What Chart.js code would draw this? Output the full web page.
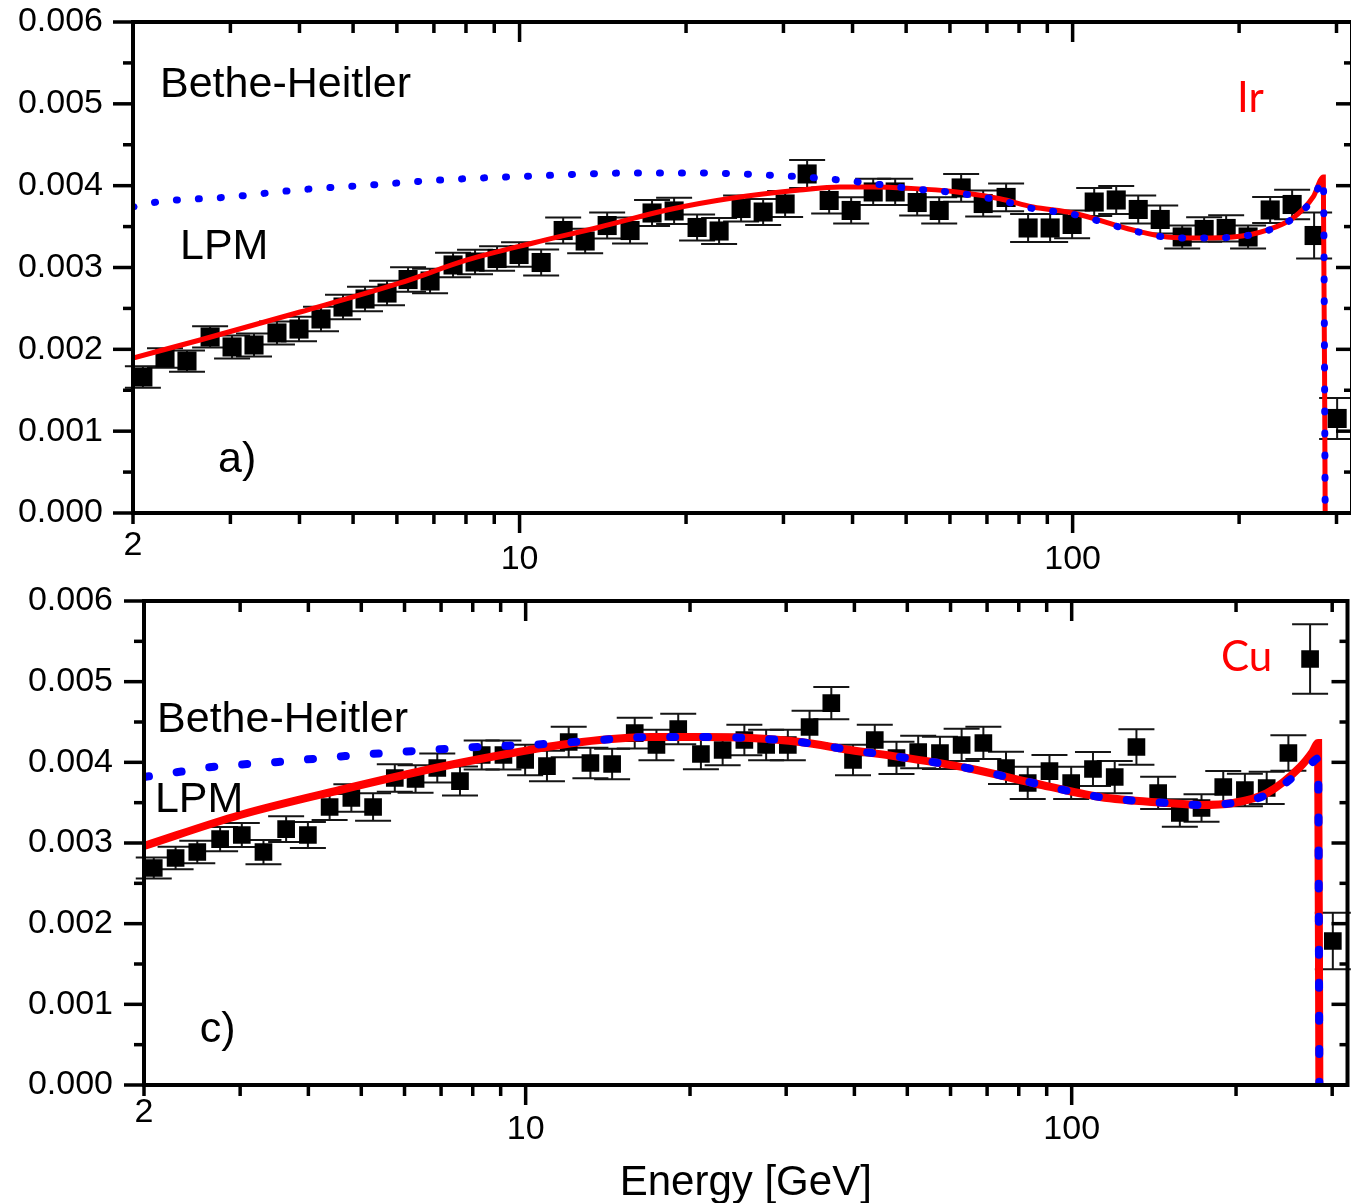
<!DOCTYPE html>
<html>
<head>
<meta charset="utf-8">
<title>Ir / Cu energy spectra</title>
<script src="https://cdn.jsdelivr.net/npm/chart.js@4.4.0/dist/chart.umd.min.js"></script>
<style>
  html, body { margin: 0; padding: 0; background: #fff; overflow: hidden; }
  #wrap { position: relative; width: 1351px; height: 1203px; overflow: hidden; background: #fff; }
  canvas { position: absolute; left: 0; }
  #grapIr { top: 0; }
  #grapCu { top: 570px; }
</style>
</head>
<body>
<div id="wrap">
  <canvas id="grapIr" width="1360" height="580"></canvas>
  <canvas id="grapCu" width="1360" height="633"></canvas>
</div>
<script>
// photon energy bins [GeV], same for both targets
var energy = [2.084, 2.285, 2.504, 2.757, 3.021, 3.310, 3.642, 3.992, 4.375, 4.795,
  5.255, 5.759, 6.286, 6.889, 7.581, 8.308, 9.106, 9.979, 10.94, 11.99,
  13.14, 14.40, 15.84, 17.36, 19.03, 20.94, 22.95, 25.15, 27.57, 30.21,
  33.11, 36.29, 39.77, 43.59, 47.77, 52.35, 57.38, 62.87, 68.91, 75.81,
  83.08, 91.06, 99.79, 109.4, 119.9, 131.4, 144.0, 157.8, 172.9, 189.5,
  207.6, 227.6, 249.4, 273.3, 300.8];

// measured values, in units of 1e-3
var irValues = [1.662, 1.894, 1.857, 2.151, 2.029, 2.053, 2.200, 2.248, 2.371, 2.517,
  2.615, 2.688, 2.853, 2.835, 3.031, 3.067, 3.110, 3.159, 3.061, 3.452,
  3.324, 3.513, 3.452, 3.666, 3.691, 3.489, 3.446, 3.721, 3.678, 3.776,
  4.143, 3.819, 3.697, 3.923, 3.923, 3.794, 3.697, 3.972, 3.782, 3.856,
  3.483, 3.483, 3.526, 3.800, 3.825, 3.709, 3.587, 3.373, 3.465, 3.477,
  3.373, 3.703, 3.770, 3.391, 1.155];
var irErrors = [0.13, 0.12, 0.13, 0.13, 0.14, 0.14, 0.14, 0.15, 0.15, 0.15,
  0.15, 0.15, 0.15, 0.15, 0.15, 0.15, 0.15, 0.15, 0.16, 0.16,
  0.15, 0.16, 0.16, 0.16, 0.16, 0.16, 0.16, 0.16, 0.16, 0.16,
  0.17, 0.16, 0.16, 0.16, 0.16, 0.16, 0.16, 0.17, 0.16, 0.17,
  0.17, 0.17, 0.17, 0.17, 0.17, 0.17, 0.17, 0.14, 0.15, 0.16,
  0.14, 0.16, 0.18, 0.28, 0.25];

var cuValues = [2.690, 2.814, 2.888, 3.049, 3.099, 2.888, 3.173, 3.099, 3.446, 3.558,
  3.446, 3.806, 3.793, 3.930, 3.768, 4.091, 4.091, 4.029, 3.954, 4.252,
  3.992, 3.979, 4.363, 4.215, 4.413, 4.103, 4.153, 4.277, 4.215, 4.215,
  4.438, 4.735, 4.029, 4.277, 4.054, 4.128, 4.116, 4.215, 4.240, 3.930,
  3.744, 3.892, 3.744, 3.917, 3.818, 4.190, 3.620, 3.372, 3.434, 3.694,
  3.657, 3.682, 4.116, 5.281, 1.785];
var cuErrors = [0.13, 0.14, 0.14, 0.15, 0.15, 0.15, 0.16, 0.16, 0.16, 0.17,
  0.17, 0.17, 0.17, 0.18, 0.18, 0.18, 0.18, 0.19, 0.19, 0.19,
  0.19, 0.19, 0.19, 0.19, 0.19, 0.19, 0.19, 0.19, 0.19, 0.19,
  0.20, 0.20, 0.19, 0.19, 0.20, 0.20, 0.20, 0.20, 0.20, 0.20,
  0.20, 0.20, 0.20, 0.21, 0.20, 0.22, 0.20, 0.17, 0.17, 0.20,
  0.20, 0.20, 0.22, 0.43, 0.35];

// theory curves (1e-3 units)
var irLpmE = [2.0, 2.644, 4.01, 6.08, 8.04, 10.58, 13.98, 18.48, 24.3, 32.1,
  38.0, 43.6, 50.2, 61.8, 73.9, 84.8, 100.2, 128.6, 148.2, 170,
  195, 224.7, 250.4, 272.2, 284.0, 286.2];
var irLpmV = [1.894, 2.114, 2.456, 2.811, 3.092, 3.30, 3.495, 3.703, 3.849, 3.946,
  3.984, 3.984, 3.97, 3.923, 3.84, 3.74, 3.666, 3.458, 3.373, 3.36,
  3.373, 3.458, 3.605, 3.862, 4.106, 0];
var irBhE = [2.0, 2.21, 2.99, 3.96, 5.37, 7.18, 10.58, 16.0, 21.2, 28.0,
  34.5, 42.5, 50.2, 61.8, 73.9, 84.8, 100.2, 128.6, 148.2, 170,
  195, 224.7, 250.4, 272.2, 284.0, 286.2];
var irBhV = [3.739, 3.80, 3.862, 3.947, 4.008, 4.069, 4.118, 4.155, 4.155, 4.13,
  4.094, 4.033, 3.97, 3.91, 3.82, 3.72, 3.65, 3.45, 3.37, 3.36,
  3.37, 3.45, 3.60, 3.84, 4.07, 0];

var cuLpmE = [2.0, 3.0, 4.57, 6.97, 9.24, 11.56, 13.68, 16.9, 20.9, 25.8,
  31.8, 39.3, 48.5, 64.3, 85.0, 112.7, 149.5, 171.8, 197.5, 228,
  262, 276, 282.7, 284.2];
var cuLpmV = [2.963, 3.347, 3.657, 3.942, 4.103, 4.215, 4.277, 4.314, 4.314, 4.301,
  4.252, 4.153, 4.066, 3.930, 3.744, 3.570, 3.496, 3.471, 3.496, 3.62,
  3.942, 4.128, 4.24, 0];
var cuBhE = [2.0, 2.31, 2.66, 3.52, 4.67, 6.22, 8.18, 10.85, 13.68, 16.9,
  20.9, 25.8, 31.8, 39.3, 48.5, 64.3, 85.0, 112.7, 149.5, 171.8,
  197.5, 228, 262, 276, 282.7, 284.2];
var cuBhV = [3.818, 3.880, 3.942, 4.004, 4.078, 4.140, 4.190, 4.227, 4.277, 4.314,
  4.314, 4.301, 4.252, 4.153, 4.066, 3.930, 3.744, 3.570, 3.496, 3.471,
  3.496, 3.60, 3.88, 4.00, 4.05, 0];

// axis ticks
var xTickLabels = [2, 10, 100];
var xMinorTicks = [2, 3, 4, 5, 6, 7, 8, 9, 20, 30, 40, 50, 60, 70, 80, 90, 200, 300];
var xMajorTicks = [10, 100];
var yTickLabels = [0, 0.001, 0.002, 0.003, 0.004, 0.005, 0.006];
var yMinorTicks = [0.0005, 0.0015, 0.0025, 0.0035, 0.0045, 0.0055];

var FONT = '"Liberation Sans", Arial, Helvetica, sans-serif';

function pairs(xs, ys) {
    return xs.map(function (x, i) { return { x: x, y: ys[i] * 1e-3 }; });
}

// error bars, frame, inward/outward ticks and text labels
function panelPlugin(notes, capHalf) {
    return {
        id: 'panel',
        beforeDatasetsDraw: function (chart) {
            var ctx = chart.ctx, xs = chart.scales.x, ys = chart.scales.y;
            chart.data.datasets.forEach(function (ds) {
                if (!ds.errors) return;
                ctx.save();
                ctx.strokeStyle = '#151515';
                ctx.lineWidth = 2;
                ds.data.forEach(function (p, i) {
                    var px = xs.getPixelForValue(p.x);
                    var y1 = ys.getPixelForValue(p.y - ds.errors[i]);
                    var y2 = ys.getPixelForValue(p.y + ds.errors[i]);
                    ctx.beginPath();
                    ctx.moveTo(px, y1); ctx.lineTo(px, y2);
                    ctx.moveTo(px - capHalf, y1); ctx.lineTo(px + capHalf, y1);
                    ctx.moveTo(px - capHalf, y2); ctx.lineTo(px + capHalf, y2);
                    ctx.stroke();
                });
                ctx.restore();
            });
        },
        afterDraw: function (chart) {
            var ctx = chart.ctx, xs = chart.scales.x, ys = chart.scales.y;
            var a = chart.chartArea;
            ctx.save();
            ctx.strokeStyle = '#000';
            ctx.lineWidth = 4;
            ctx.strokeRect(a.left, a.top, a.right - a.left, a.bottom - a.top);

            ctx.lineWidth = 3.5;
            function seg(x1, y1, x2, y2) {
                ctx.beginPath(); ctx.moveTo(x1, y1); ctx.lineTo(x2, y2); ctx.stroke();
            }
            xMajorTicks.forEach(function (v) {
                var px = xs.getPixelForValue(v);
                seg(px, a.bottom, px, a.bottom + 20);
                seg(px, a.top, px, a.top + 20);
            });
            xMinorTicks.forEach(function (v) {
                var px = xs.getPixelForValue(v);
                seg(px, a.bottom, px, a.bottom + 11);
                seg(px, a.top, px, a.top + 11);
            });
            yTickLabels.forEach(function (v) {
                var py = ys.getPixelForValue(v);
                seg(a.left - 20, py, a.left, py);
                seg(a.right, py, a.right - 16, py);
            });
            yMinorTicks.forEach(function (v) {
                var py = ys.getPixelForValue(v);
                seg(a.left - 10, py, a.left, py);
                seg(a.right, py, a.right - 8, py);
            });

            ctx.textAlign = 'left';
            ctx.textBaseline = 'middle';
            notes.forEach(function (n) {
                ctx.font = n.font;
                ctx.fillStyle = n.color;
                ctx.fillText(n.text, xs.getPixelForValue(n.e), ys.getPixelForValue(n.v * 1e-3));
            });
            ctx.restore();
        }
    };
}

function makePanel(id, cfg) {
    return new Chart(document.getElementById(id).getContext('2d'), {
        type: 'scatter',
        data: {
            datasets: [
                {
                    label: 'Bethe-Heitler',
                    data: pairs(cfg.bhE, cfg.bhV),
                    showLine: true,
                    borderColor: '#0000ff',
                    borderWidth: cfg.dotWidth,
                    borderDash: cfg.dash,
                    borderCapStyle: 'round',
                    pointRadius: 0,
                    cubicInterpolationMode: 'monotone',
                    order: 0
                },
                {
                    label: 'LPM',
                    data: pairs(cfg.lpmE, cfg.lpmV),
                    showLine: true,
                    borderColor: '#ff0000',
                    borderWidth: cfg.redWidth,
                    pointRadius: 0,
                    cubicInterpolationMode: 'monotone',
                    order: 1
                },
                {
                    label: 'data',
                    data: pairs(energy, cfg.values),
                    errors: cfg.errors.map(function (e) { return e * 1e-3; }),
                    pointStyle: 'rect',
                    pointRadius: cfg.box,
                    backgroundColor: '#000',
                    borderWidth: 0,
                    order: 2
                }
            ]
        },
        options: {
            responsive: false,
            animation: false,
            events: [],
            layout: {
                autoPadding: false,
                padding: { top: cfg.padTop, right: cfg.padRight, left: 0, bottom: 0 }
            },
            plugins: {
                legend: { display: false },
                tooltip: { enabled: false }
            },
            scales: {
                x: {
                    type: 'logarithmic',
                    min: 2,
                    max: 320,
                    bounds: 'data',
                    grid: { display: false, drawTicks: false },
                    border: { display: false },
                    afterBuildTicks: function (s) {
                        s.ticks = xTickLabels.map(function (v) { return { value: v }; });
                    },
                    afterFit: function (s) {
                        s.height = cfg.xAxisHeight;
                        s.paddingLeft = 0;
                        s.paddingRight = 0;
                    },
                    ticks: {
                        autoSkip: false,
                        maxRotation: 0,
                        padding: cfg.xPad,
                        color: '#000',
                        callback: function (v) { return String(v); },
                        font: function (c) {
                            var first = c.tick && c.tick.value === 2;
                            return { family: FONT, size: 34, lineHeight: first ? cfg.lh2 : cfg.lh10 };
                        }
                    },
                    title: {
                        display: !!cfg.xTitle,
                        text: cfg.xTitle || '',
                        color: '#000',
                        padding: 0,
                        font: { family: FONT, size: 42, lineHeight: '40px' }
                    }
                },
                y: {
                    type: 'linear',
                    min: 0,
                    max: 0.006,
                    bounds: 'data',
                    grid: { display: false, drawTicks: false },
                    border: { display: false },
                    afterBuildTicks: function (s) {
                        s.ticks = yTickLabels.map(function (v) { return { value: v }; });
                    },
                    afterFit: function (s) {
                        s.width = cfg.yAxisWidth;
                        s.paddingTop = 0;
                        s.paddingBottom = 0;
                    },
                    ticks: {
                        padding: cfg.yPad,
                        color: '#000',
                        font: { family: FONT, size: 34 },
                        callback: function (v) { return v.toFixed(3); }
                    }
                }
            }
        },
        plugins: [panelPlugin(cfg.notes, cfg.capHalf)]
    });
}

var black43 = '43px ' + FONT;
var red42 = '42px Lato, "Open Sans", sans-serif';

// a) Ir
makePanel('grapIr', {
    values: irValues, errors: irErrors,
    lpmE: irLpmE, lpmV: irLpmV, bhE: irBhE, bhV: irBhV,
    box: 13.5, capHalf: 18, redWidth: 5, dotWidth: 7, dash: [1, 21],
    padTop: 22, padRight: 8, xAxisHeight: 67, yAxisWidth: 133,
    xPad: 16, lh2: '34px', lh10: '62px', yPad: 30,
    notes: [
        { text: 'Bethe-Heitler', e: 2.238, v: 5.23, font: black43, color: '#000' },
        { text: 'LPM', e: 2.432, v: 3.25, font: black43, color: '#000' },
        { text: 'a)', e: 2.849, v: 0.648, font: black43, color: '#000' },
        { text: 'Ir', e: 198.3, v: 5.07, font: red42, color: '#ff0000' }
    ]
});

// c) Cu
makePanel('grapCu', {
    values: cuValues, errors: cuErrors,
    lpmE: cuLpmE, lpmV: cuLpmV, bhE: cuBhE, bhV: cuBhV,
    box: 12.5, capHalf: 18, redWidth: 8, dotWidth: 8, dash: [5, 28],
    padTop: 31, padRight: 12.5, xAxisHeight: 118, yAxisWidth: 144,
    xPad: 12, lh2: '32px', lh10: '66px', yPad: 31,
    xTitle: 'Energy [GeV]',
    notes: [
        { text: 'Bethe-Heitler', e: 2.113, v: 4.525, font: black43, color: '#000' },
        { text: 'LPM', e: 2.094, v: 3.533, font: black43, color: '#000' },
        { text: 'c)', e: 2.53, v: 0.682, font: black43, color: '#000' },
        { text: 'Cu', e: 187.7, v: 5.306, font: red42, color: '#ff0000' }
    ]
});
</script>
</body>
</html>
